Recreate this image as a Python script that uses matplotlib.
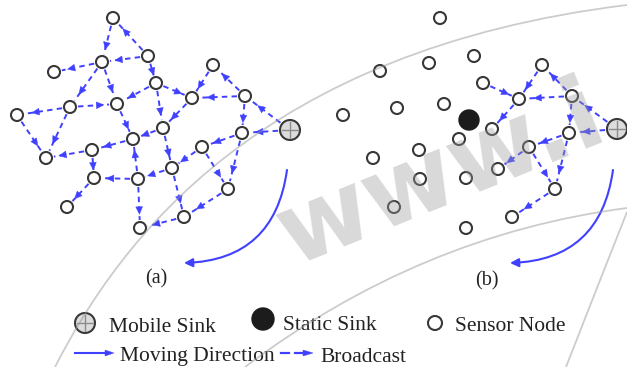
import numpy as np
import matplotlib
matplotlib.use('Agg')
import matplotlib.pyplot as plt
from matplotlib.patches import Circle, Polygon, FancyArrowPatch, PathPatch
from matplotlib.path import Path

# ---------------- data: node positions (pixel space) and broadcast edges ----------------
# Panel (a)
a_x = [113, 148, 102, 54, 156, 213, 245, 192, 117, 70, 17, 163, 242, 290, 133,
       92, 202, 46, 172, 94, 138, 228, 67, 184, 140]
a_y = [18, 56, 62, 72, 83, 65, 96, 98, 104, 107, 115, 128, 133, 130, 139,
       150, 147, 158, 168, 178, 179, 189, 207, 217, 228]
a_mobile = [13]
a_static = []
a_edges = [(1, 0), (0, 2), (1, 2), (2, 3), (1, 4), (2, 8), (2, 9), (4, 8), (4, 7),
           (4, 11), (5, 7), (6, 5), (6, 7), (13, 6), (6, 12), (13, 12), (9, 10),
           (9, 8), (10, 17), (9, 17), (8, 14), (7, 11), (11, 14), (14, 15),
           (15, 17), (15, 19), (11, 18), (12, 16), (12, 21), (16, 21), (16, 18),
           (18, 20), (20, 14), (20, 19), (19, 22), (20, 24), (18, 23), (21, 23),
           (23, 24)]

# Panel (b)
b_x = [440, 474, 429, 380, 542, 483, 572, 519, 444, 397, 343, 469, 492, 617,
       459, 569, 529, 419, 373, 498, 420, 466, 555, 394, 512, 466]
b_y = [18, 56, 63, 71, 65, 83, 96, 99, 104, 108, 115, 120, 129, 129, 139, 133,
       147, 150, 158, 169, 179, 178, 189, 207, 217, 228]
b_mobile = [13]
b_static = [11]
b_edges = [(5, 7), (4, 7), (6, 4), (6, 7), (13, 6), (7, 12), (6, 15), (13, 15),
           (15, 16), (16, 19), (15, 22), (16, 22), (22, 24)]

panel_labels = ['(a)', '(b)']
legend_labels = ['Mobile Sink', 'Static Sink', 'Sensor Node',
                 'Moving Direction', 'Broadcast']
watermark = 'www.i'

# ---------------- style ----------------
BLUE = '#4040ff'
EDGE = '#383838'
R_NODE = 6
R_SINK = 10
SERIF = ['Liberation Serif', 'DejaVu Serif']

fig = plt.figure(figsize=(6.27, 3.67), dpi=100)
ax = fig.add_axes([0, 0, 1, 1])
ax.set_xlim(0, 627)
ax.set_ylim(367, 0)
ax.axis('off')


def sensor(x, y, r=R_NODE):
    ax.add_patch(Circle((x, y), r, facecolor='white', edgecolor=EDGE,
                        lw=1.5, zorder=5))


def mobile(x, y, r=R_SINK):
    ax.add_patch(Circle((x, y), r, facecolor='#dcdcdc', edgecolor=EDGE,
                        lw=1.5, zorder=5))
    ax.plot([x - r * 0.8, x + r * 0.8], [y, y], color='#8c8c8c', lw=1, zorder=6)
    ax.plot([x, x], [y - r * 0.8, y + r * 0.8], color='#8c8c8c', lw=1, zorder=6)


def static(x, y, r=R_SINK):
    ax.add_patch(Circle((x, y), r, facecolor='#1c1c1c', edgecolor='#1c1c1c',
                        lw=1, zorder=5))


def head(tip, u, length=7.5, half=3.4):
    n = np.array([-u[1], u[0]])
    base = tip - u * length
    ax.add_patch(Polygon([tip, base + n * half, base - n * half], closed=True,
                         facecolor=BLUE, edgecolor=BLUE, lw=0.3, zorder=4))


def broadcast(p, q, rp, rq, frac=0.72):
    p = np.asarray(p, float)
    q = np.asarray(q, float)
    d = q - p
    L = np.hypot(*d)
    u = d / L
    s = p + u * (rp + 2)
    e = q - u * (rq + 2)
    ax.plot([s[0], e[0]], [s[1], e[1]], color=BLUE, lw=1.4,
            dashes=(2.8, 2.2), dash_capstyle='butt', zorder=3)
    tip = p + u * min(frac * L, L - rq - 2)
    head(tip, u)


def draw_panel(xs, ys, edges, mob, sta):
    rad = [R_SINK if (i in mob or i in sta) else R_NODE for i in range(len(xs))]
    for i, j in edges:
        broadcast((xs[i], ys[i]), (xs[j], ys[j]), rad[i], rad[j])
    for i in range(len(xs)):
        if i in mob:
            mobile(xs[i], ys[i])
        elif i in sta:
            static(xs[i], ys[i])
        else:
            sensor(xs[i], ys[i])


draw_panel(a_x, a_y, a_edges, a_mobile, a_static)
draw_panel(b_x, b_y, b_edges, b_mobile, b_static)

# moving-direction arcs
for (sx, sy), (ex, ey) in [((287, 170), (184, 263)), ((613, 170), (510, 263))]:
    ax.add_patch(FancyArrowPatch((sx, sy), (ex, ey),
                                 connectionstyle='arc3,rad=-0.42',
                                 arrowstyle='-|>,head_length=5,head_width=2.5',
                                 color=BLUE, lw=1.5, zorder=3,
                                 shrinkA=0, shrinkB=0))

# panel labels
ax.text(156, 279, panel_labels[0], family=SERIF, fontsize=14.5,
        ha='center', va='center', color='#222')
ax.text(487, 281, panel_labels[1], family=SERIF, fontsize=14.5,
        ha='center', va='center', color='#222')

# legend
mobile(85, 323)
ax.text(109, 332, legend_labels[0], family=SERIF, fontsize=15.5,
        va='baseline', color='#222')
static(263, 319, 11)
ax.text(283, 330, legend_labels[1], family=SERIF, fontsize=15.5,
        va='baseline', color='#222')
sensor(435, 323, 7)
ax.text(455, 331, legend_labels[2], family=SERIF, fontsize=15.5,
        va='baseline', color='#222')

ax.plot([75, 106], [353, 353], color=BLUE, lw=1.5, zorder=3)
head(np.array([114.0, 353.0]), np.array([1.0, 0.0]), length=9, half=3)
ax.text(120, 361, legend_labels[3], family=SERIF, fontsize=15.5,
        va='baseline', color='#222')
ax.plot([281, 289], [353, 353], color=BLUE, lw=1.6, zorder=3)
ax.plot([295, 304], [353, 353], color=BLUE, lw=1.6, zorder=3)
head(np.array([313.0, 353.0]), np.array([1.0, 0.0]), length=10, half=3)
ax.text(320, 362, legend_labels[4], family=SERIF, fontsize=15.5,
        va='baseline', color='#222')

# watermark (light grey, semi-transparent, over everything)
WM = '#9a9a9a'
arcs = [
    [(55, 367), (120, 240), (260, 50), (627, 5)],
    [(245, 367), (420, 235), (627, 208)],
    [(566, 367), (598, 285), (627, 212)],
]
for pts in arcs:
    codes = [Path.MOVETO] + ([Path.CURVE4] * 3 if len(pts) == 4 else [Path.CURVE3] * 2)
    ax.add_patch(PathPatch(Path(pts, codes), facecolor='none', edgecolor=WM,
                           lw=1.3, alpha=0.5, zorder=8))
ax.text(292, 266, watermark, family='DejaVu Sans', fontweight='bold',
        fontsize=72, rotation=22, rotation_mode='anchor', ha='left',
        va='baseline', color=WM, alpha=0.38, zorder=8)

fig.savefig('out.png', dpi=100)
